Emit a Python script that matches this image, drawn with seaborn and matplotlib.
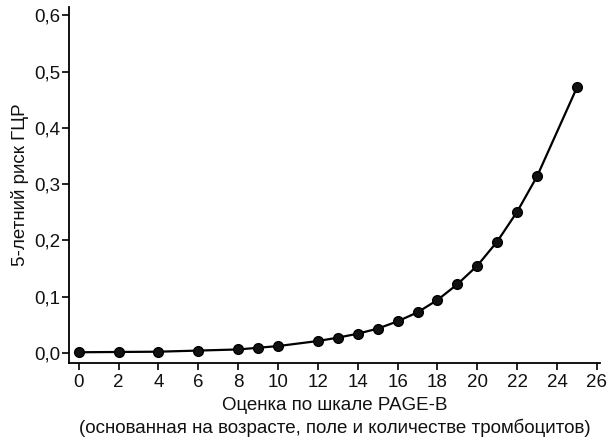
import matplotlib
matplotlib.use("Agg")
import matplotlib.pyplot as plt
import seaborn as sns
import pandas as pd
from matplotlib.ticker import FuncFormatter

# PAGE-B score vs 5-year HCC risk
scores = [0, 2, 4, 6, 8, 9, 10, 12, 13, 14, 15, 16, 17, 18, 19, 20, 21, 22, 23, 25]
risk = [0.001, 0.0015, 0.002, 0.004, 0.006, 0.009, 0.012, 0.021, 0.027, 0.034,
        0.043, 0.056, 0.072, 0.094, 0.122, 0.155, 0.198, 0.251, 0.314, 0.472]

x_ticks = list(range(0, 27, 2))
y_ticks = [0.0, 0.1, 0.2, 0.3, 0.4, 0.5, 0.6]

x_label = "Оценка по шкале PAGE-B\n(основанная на возрасте, поле и количестве тромбоцитов)"
y_label = "5-летний риск ГЦР"

df = pd.DataFrame({"score": scores, "risk": risk})

sns.set_style("ticks")
plt.rcParams["font.family"] = ["Liberation Sans", "DejaVu Sans"]
plt.rcParams["text.color"] = "#111111"
plt.rcParams["axes.labelcolor"] = "#111111"
fs = 13.5

fig = plt.figure(figsize=(6.09, 4.41), dpi=100)
ax = fig.add_axes([0.113, 0.177, 0.872, 0.807])

sns.lineplot(data=df, x="score", y="risk", ax=ax, color="black", linewidth=1.6,
             marker="o", markersize=7, markerfacecolor="#111111",
             markeredgecolor="black", markeredgewidth=1.0)

ax.set_xlim(-0.5, 26.15)
ax.set_ylim(-0.018, 0.615)
ax.set_xticks(x_ticks)
ax.set_yticks(y_ticks)
ax.yaxis.set_major_formatter(FuncFormatter(lambda v, p: f"{v:.1f}".replace(".", ",")))
ax.set_xlabel(x_label, fontsize=fs, linespacing=1.35, labelpad=4)
ax.set_ylabel(y_label, fontsize=fs, labelpad=4)

sns.despine(ax=ax)
for s in ["left", "bottom"]:
    ax.spines[s].set_linewidth(1.3)
    ax.spines[s].set_color("black")
ax.tick_params(direction="out", length=5, width=1.2, colors="black",
               labelcolor="#111111", labelsize=fs)
ax.tick_params(axis="x", pad=3)
ax.tick_params(axis="y", pad=1)

fig.savefig("out.png", dpi=100)
